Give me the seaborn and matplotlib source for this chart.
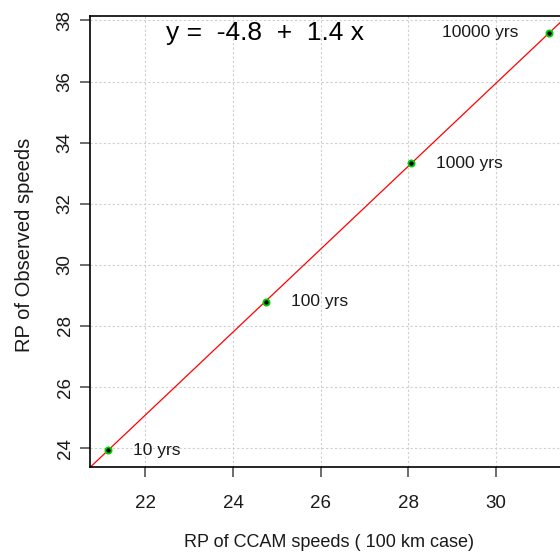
import numpy as np
import pandas as pd
import matplotlib
matplotlib.use("Agg")
import matplotlib.pyplot as plt
import seaborn as sns

# Data
ccam_speeds = [21.14, 24.75, 28.06, 31.22]
obs_speeds = [23.93, 28.79, 33.32, 37.60]
rp_labels = ["10 yrs", "100 yrs", "1000 yrs", "10000 yrs"]
x_ticks = [22, 24, 26, 28, 30]
y_ticks = [24, 26, 28, 30, 32, 34, 36, 38]
equation = "y =  -4.8  +  1.4 x"
x_label = "RP of CCAM speeds ( 100 km case)"
y_label = "RP of Observed speeds"

df = pd.DataFrame({"ccam": ccam_speeds, "obs": obs_speeds, "rp": rp_labels})

sns.set_style("white")
plt.rcParams["font.family"] = ["Liberation Sans", "DejaVu Sans"]

fig = plt.figure(figsize=(5.6, 5.56), dpi=100)
ax = fig.add_axes([90/560, 89/556, 477/560, 451/556])

# R-style 4% padded limits
def padded(v):
    lo, hi = min(v), max(v)
    r = hi - lo
    return lo - 0.04*r, hi + 0.04*r

ax.set_xlim(*padded(ccam_speeds))
ax.set_ylim(*padded(obs_speeds))

# grid
ax.set_xticks(x_ticks)
ax.set_yticks(y_ticks)
ax.grid(True, color="#cfcfcf", linestyle=(0, (2, 2)), linewidth=0.8)
ax.set_axisbelow(True)

# fitted line
slope, intercept = np.polyfit(ccam_speeds, obs_speeds, 1)
ax.axline((0, intercept), slope=slope, color="#ff0000", linewidth=0.9, zorder=2)

sns.scatterplot(data=df, x="ccam", y="obs", ax=ax, color="black",
                edgecolor="#00d000", linewidth=1.3, s=20, zorder=3, legend=False)

for i, (xv, yv, lab) in enumerate(zip(ccam_speeds, obs_speeds, rp_labels)):
    if i == len(rp_labels) - 1:
        ax.annotate(lab, (xv, yv), xytext=(-22, 0), textcoords="offset points",
                    ha="right", va="center", fontsize=12.5, color="#1a1a1a")
    else:
        ax.annotate(lab, (xv, yv), xytext=(18, 0), textcoords="offset points",
                    ha="left", va="center", fontsize=12.5, color="#1a1a1a")

ax.text(24.72, 37.6, equation, ha="center", va="center", fontsize=19, color="black")

for side in ["left", "top", "bottom", "right"]:
    ax.spines[side].set_color("black")
    ax.spines[side].set_linewidth(1.2)

ax.tick_params(axis="both", which="major", direction="out", length=7.2, width=1.1,
               color="#444444", labelsize=13.5, labelcolor="#1a1a1a",
               left=True, bottom=True)
ax.tick_params(axis="x", pad=13)
ax.tick_params(axis="y", pad=4.5, labelrotation=90)
for t in ax.get_yticklabels():
    t.set_va("center")

ax.set_xlabel(x_label, fontsize=13, color="#1a1a1a")
ax.set_ylabel(y_label, fontsize=14.5, color="#1a1a1a")
ax.xaxis.set_label_coords(0.5, -(534 - 467) / 451)
ax.yaxis.set_label_coords(-(90 - 34) / 477, (467 - 245) / 451)

fig.savefig("out.png", dpi=100)
